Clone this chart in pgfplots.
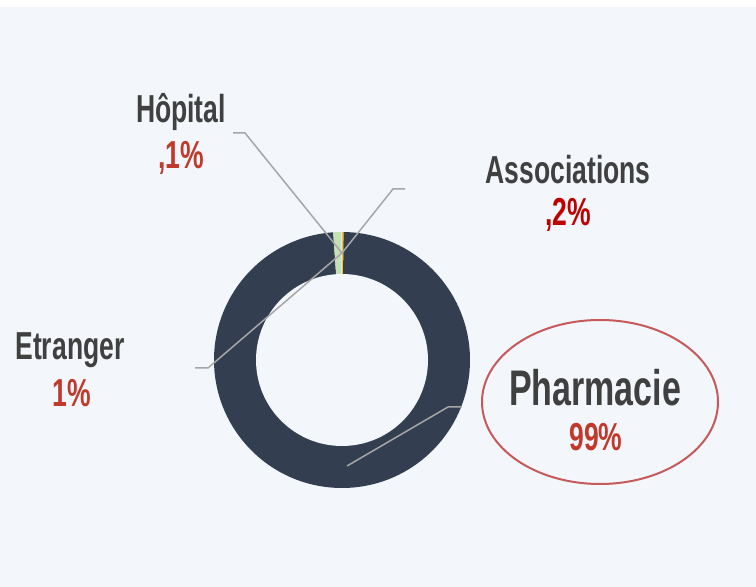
\documentclass[border=0pt]{standalone}
\usepackage{pgfplots}
\pgfplotsset{compat=1.18}
\usepackage{pgfplotstable}
\usepackage{fontspec}
\newfontfamily\labfont{Liberation Sans}[FakeStretch=0.68]
\definecolor{bgPanel}{HTML}{F3F6FB}
\definecolor{navy}{HTML}{333F50}
\definecolor{leafGreen}{HTML}{C5E0B4}
\definecolor{gold}{HTML}{FFC000}
\definecolor{paleGray}{HTML}{E4E4E4}
\definecolor{inkGray}{HTML}{404040}
\definecolor{pctRed}{HTML}{C0392B}
\definecolor{pureRed}{HTML}{C00000}
\definecolor{ringRed}{HTML}{C55A5A}
\definecolor{leader}{HTML}{A6A6A6}

% shares, in the order the slices run clockwise from 12 o'clock
\pgfplotstableread{
name value
Associations 0.2
Pharmacie 99
Etranger 1
Hopital 0.1
}\shares

% start / end angle of every slice
\def\sliceTotal{100.3}
\def\cum{0}
\foreach \i in {0,1,2,3}{
  \pgfplotstablegetelem{\i}{value}\of\shares
  \pgfmathsetmacro\sa{90-\cum/\sliceTotal*360}
  \pgfmathsetmacro\newcum{\cum+\pgfplotsretval}
  \pgfmathsetmacro\ea{90-\newcum/\sliceTotal*360}
  \global\expandafter\let\csname sa\i\endcsname\sa
  \global\expandafter\let\csname ea\i\endcsname\ea
  \global\let\cum\newcum
}
\expandafter\def\csname col0\endcsname{gold}
\expandafter\def\csname col1\endcsname{navy}
\expandafter\def\csname col2\endcsname{leafGreen}
\expandafter\def\csname col3\endcsname{paleGray}

\begin{document}
\begin{tikzpicture}
\begin{axis}[
  width=378pt, height=293.5pt, scale only axis,
  xmin=0, xmax=756, ymin=0, ymax=587, y dir=reverse,
  hide axis, clip=false]
% page and panel
\fill[white] (axis cs:0,0) rectangle (axis cs:756,7);
\fill[bgPanel] (axis cs:0,7) rectangle (axis cs:756,587);
% donut
\pgfplotsinvokeforeach{0,1,2,3}{
  \fill[color=\csname col#1\endcsname] (axis cs:342,360) -- ++(\csname sa#1\endcsname:64pt)
    arc[start angle=\csname sa#1\endcsname, end angle=\csname ea#1\endcsname, radius=64pt] -- cycle;
}
\fill[bgPanel] (axis cs:342,360) circle[radius=43pt];
% leader lines
\addplot[leader, line width=0.75pt, mark=none] coordinates {(233,133) (245,133) (342,253)};
\addplot[leader, line width=0.75pt, mark=none] coordinates {(405,189) (393,189) (342,253)};
\addplot[leader, line width=0.75pt, mark=none] coordinates {(195,368) (208,368) (342,253)};
\addplot[leader, line width=0.75pt, mark=none] coordinates {(462,407) (448,407) (347,466)};
% ellipse round the main share
\draw[ringRed, line width=1pt] (axis cs:600,402) ellipse[x radius=59pt, y radius=41pt];
% labels
\node[inkGray, font=\labfont\bfseries\fontsize{19.5}{21}\selectfont] at (axis cs:181,112) {Hôpital};
\node[pctRed, font=\labfont\bfseries\fontsize{19.5}{21}\selectfont] at (axis cs:181,158) {,1\%};
\node[inkGray, font=\labfont\bfseries\fontsize{19.5}{21}\selectfont] at (axis cs:568,170) {Associations};
\node[pureRed, font=\labfont\bfseries\fontsize{19.5}{21}\selectfont] at (axis cs:568,215) {,2\%};
\node[inkGray, font=\labfont\bfseries\fontsize{19.5}{21}\selectfont] at (axis cs:70,350) {Etranger};
\node[pctRed, font=\labfont\bfseries\fontsize{19.5}{21}\selectfont] at (axis cs:72,393) {1\%};
\node[inkGray, font=\labfont\bfseries\fontsize{25}{27}\selectfont] at (axis cs:595,388) {Pharmacie};
\node[pctRed, font=\labfont\bfseries\fontsize{19.5}{21}\selectfont] at (axis cs:596,437) {99\%};
\end{axis}
\end{tikzpicture}
\end{document}
